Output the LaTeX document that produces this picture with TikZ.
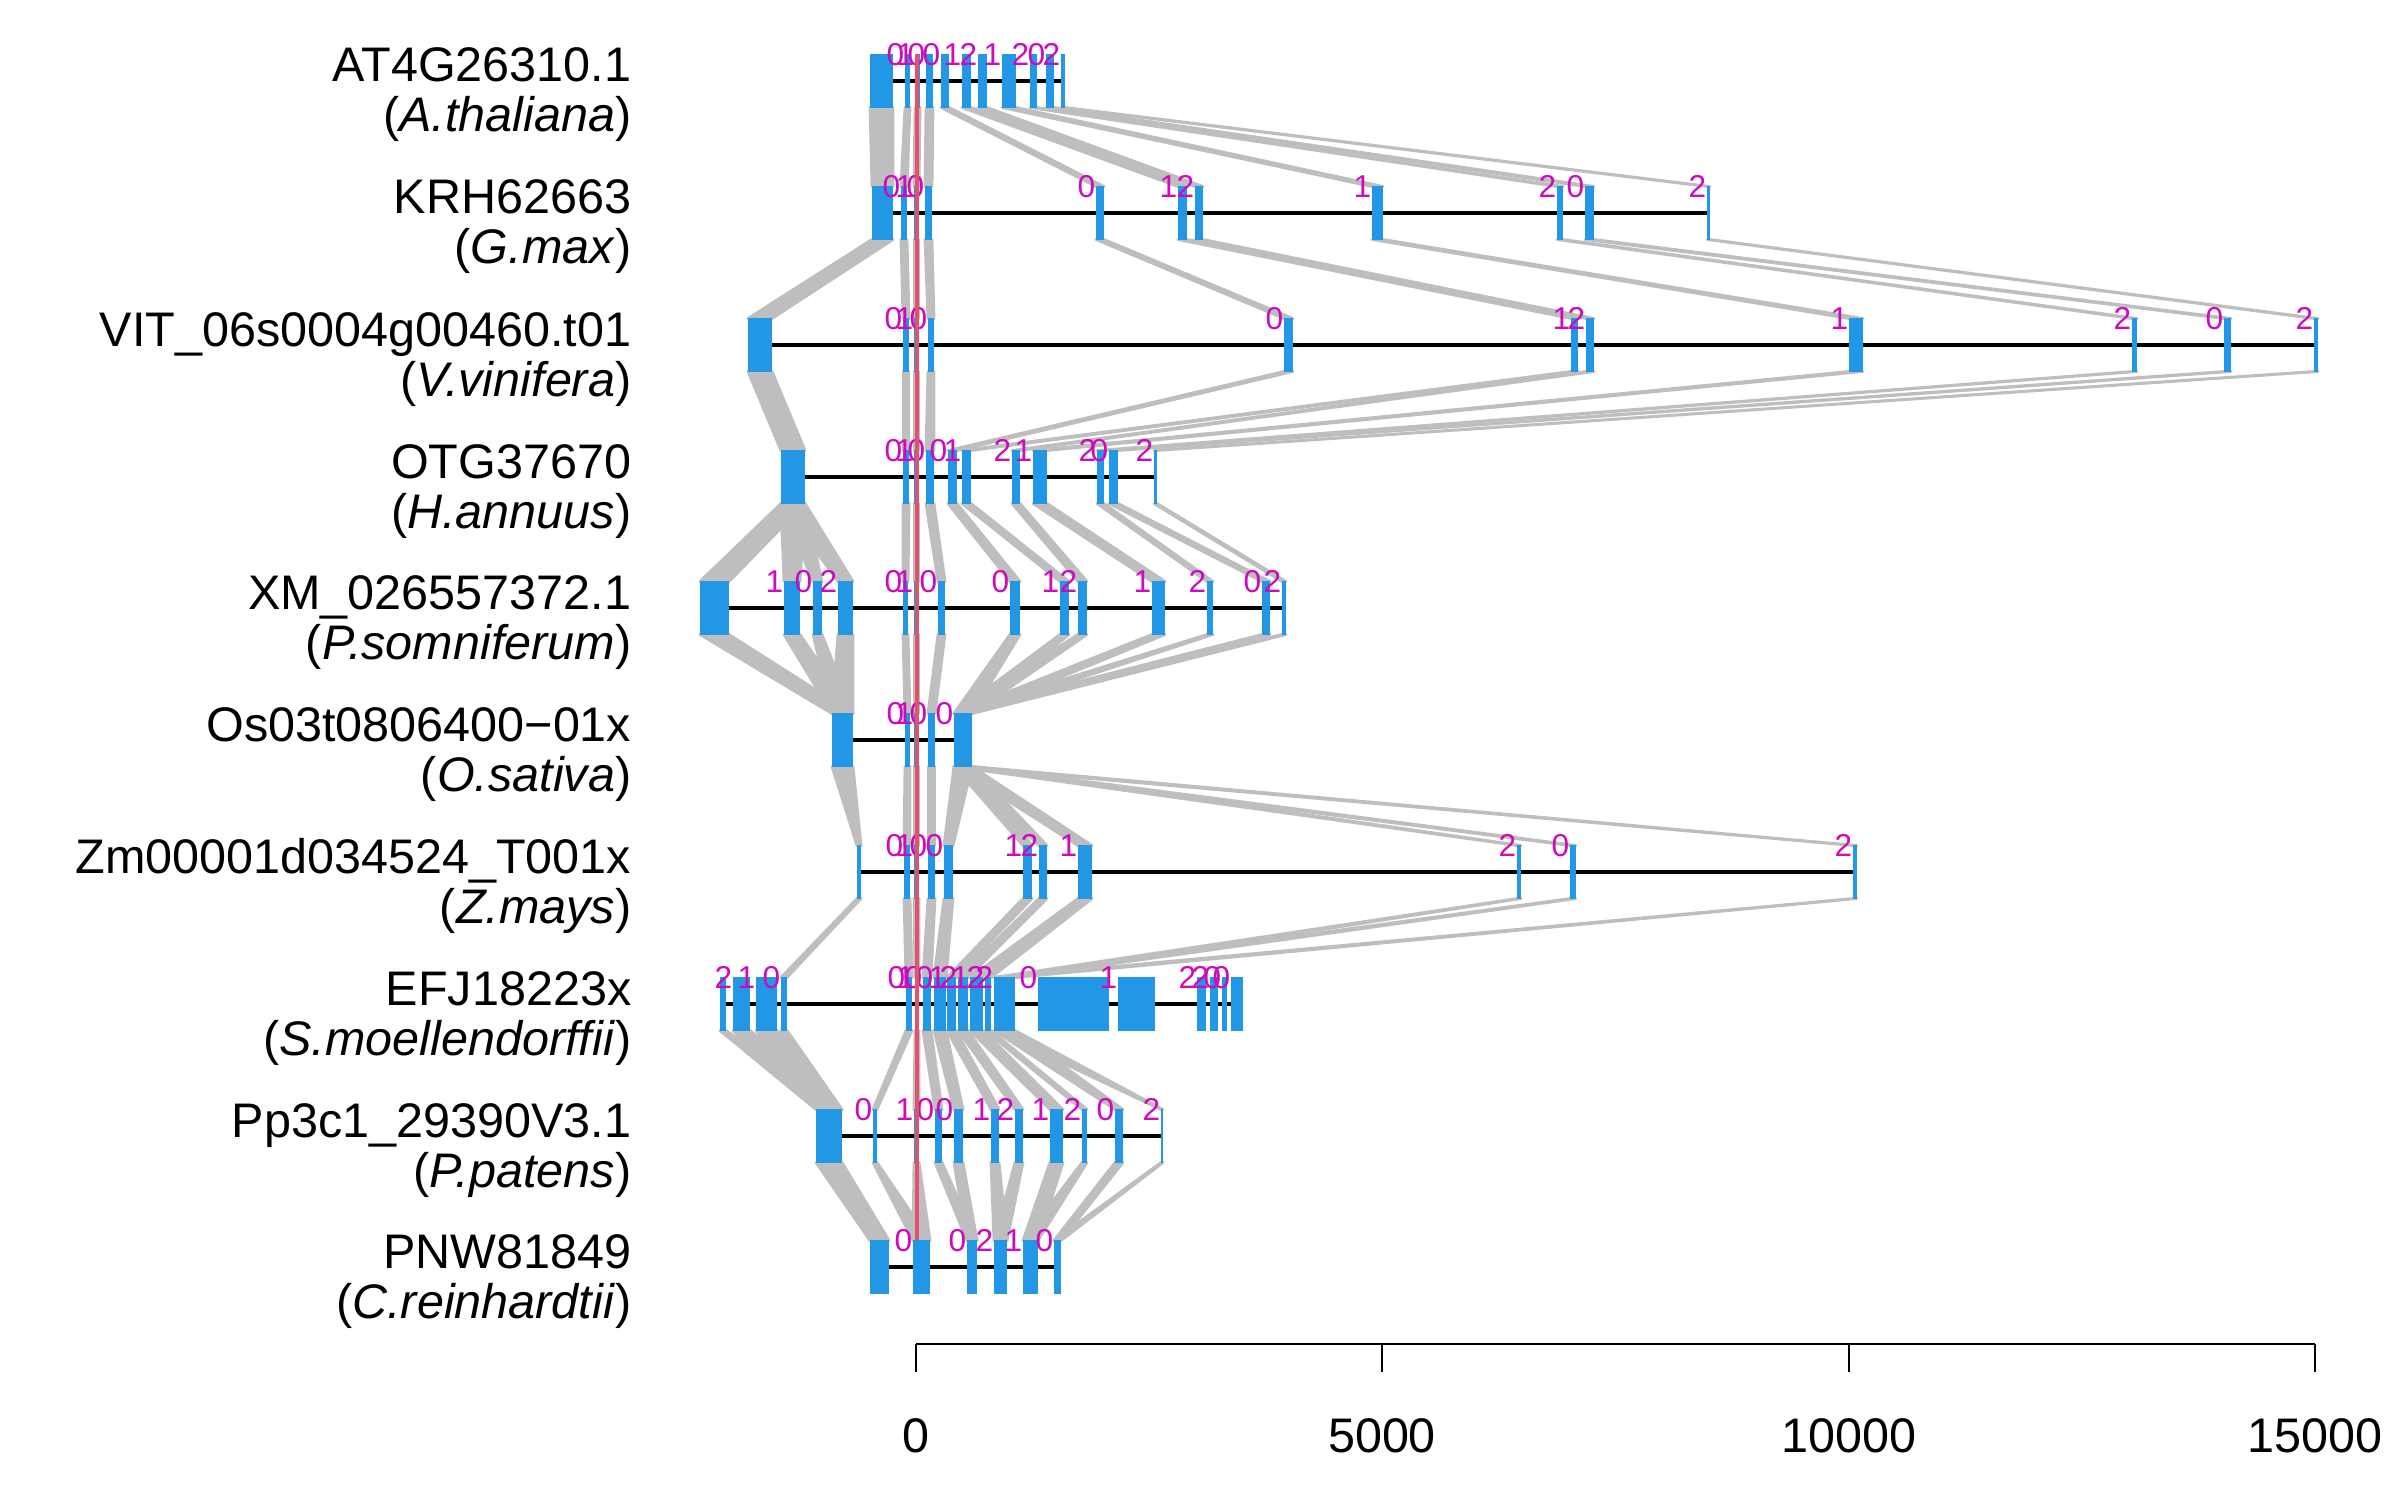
\documentclass[tikz,border=0pt]{standalone}
\usepackage{fontspec}
\setmainfont{Liberation Sans}
\usepackage{tikz}
\usetikzlibrary{positioning}
\usetikzlibrary{calc,backgrounds}

\definecolor{exonblue}{HTML}{2297E6}
\definecolor{phasemag}{HTML}{CD0BBC}
\definecolor{zerored}{HTML}{DF536B}
\definecolor{bandgray}{HTML}{BEBEBE}

\tikzset{
	exon/.style={rectangle, fill=exonblue, inner sep=0pt, outer sep=0pt, minimum height=0.53cm},
	phase/.style={anchor=east, inner sep=0pt, text=phasemag, font=\fontsize{9}{10}\selectfont},
	gene/.style={line width=0.95pt, black},
	band/.style={fill=bandgray, draw=bandgray, line width=0.8pt, line join=round},
	zeroline/.style={line width=1.1pt, zerored},
	gname/.style={anchor=base east, inner sep=0pt, font=\fontsize{13.8}{16}\selectfont},
	axisline/.style={line width=0.8pt, black},
	ticklabel/.style={inner sep=0pt, font=\fontsize{13.8}{16}\selectfont},
}

% one gene model: #1 row, #2 y, #3/#4 first exon, #5 other exons (start/end/phase), #6 last index
\newcommand{\generow}[6]{%
	\node[exon, minimum width={(#4-#3)*0.2845pt}] (r#1e1) at ({(#3+#4)/2},#2) {};
	\foreach \xa/\xb/\ph [count=\i from 2] in {#5} {
		\node[exon, minimum width={(\xb-\xa)*0.2845pt}] (r#1e\i) at ({(\xa+\xb)/2},#2) {};
		\node[phase] (r#1p\i) at (r#1e\i.north west) {\ph};
	}
	\begin{pgfonlayer}{background}
		\draw[gene] (r#1e1.center) -- (r#1e#6.center);
	\end{pgfonlayer}
}

% gray band between homologous exons of two neighbouring rows
\newcommand{\band}[2]{%
	\filldraw[band] (#1.south west) -- (#1.south east) -- (#2.north east) -- (#2.north west) -- cycle;
}

\begin{document}
\begin{tikzpicture}[x=0.01cm, y=-0.01cm]
	
	\useasboundingbox (0,0) rectangle (2400,1500);
	
	% gene names, right aligned
	\node[gname] (n1) at (632,82) {AT4G26310.1};
	\node[gname] (s1) at (632,132) {(\textit{A.thaliana})};
	\node[gname] (n2) at (632,214) {KRH62663};
	\node[gname] (s2) at (632,264) {(\textit{G.max})};
	\node[gname] (n3) at (632,346) {VIT\_06s0004g00460.t01};
	\node[gname] (s3) at (632,396) {(\textit{V.vinifera})};
	\node[gname] (n4) at (632,478) {OTG37670};
	\node[gname] (s4) at (632,528) {(\textit{H.annuus})};
	\node[gname] (n5) at (632,609) {XM\_026557372.1};
	\node[gname] (s5) at (632,659) {(\textit{P.somniferum})};
	\node[gname] (n6) at (632,741) {Os03t0806400−01x};
	\node[gname] (s6) at (632,791) {(\textit{O.sativa})};
	\node[gname] (n7) at (632,873) {Zm00001d034524\_T001x};
	\node[gname] (s7) at (632,923) {(\textit{Z.mays})};
	\node[gname] (n8) at (632,1005) {EFJ18223x};
	\node[gname] (s8) at (632,1055) {(\textit{S.moellendorffii})};
	\node[gname] (n9) at (632,1137) {Pp3c1\_29390V3.1};
	\node[gname] (s9) at (632,1187) {(\textit{P.patens})};
	\node[gname] (n10) at (632,1268) {PNW81849};
	\node[gname] (s10) at (632,1318) {(\textit{C.reinhardtii})};
	
	% exon models
	\generow{1}{81}{870}{893}{905/910/0, 915/920/1, 926/933/0, 941/949/0, 962/971/1, 978/987/2, 1002/1016/1, 1030/1037/2, 1046/1054/0, 1061/1065/2}{11}
	\generow{2}{213}{872}{893}{901/907/0, 914/919/1, 925/932/0, 1096/1104/0, 1178/1187/1, 1195/1203/2, 1372/1383/1, 1557/1563/2, 1585/1594/0, 1707/1710/2}{11}
	\generow{3}{345}{748}{772}{903/909/0, 914/919/1, 928/934/0, 1284/1293/0, 1571/1578/1, 1586/1594/2, 1849/1863/1, 2132/2137/2, 2224/2231/0, 2314/2318/2}{11}
	\generow{4}{477}{781}{805}{903/909/0, 914/919/1, 926/934/0, 948/957/0, 962/971/1, 1012/1020/2, 1033/1047/1, 1097/1104/2, 1109/1118/0, 1154/1157/2}{11}
	\generow{5}{608}{700}{729}{784/800/1, 813/822/0, 838/853/2, 903/908/0, 914/919/1, 938/945/0, 1010/1020/0, 1060/1069/1, 1078/1087/2, 1152/1165/1, 1207/1213/2, 1262/1270/0, 1282/1286/2}{14}
	\generow{6}{740}{832}{853}{905/910/0, 914/919/1, 928/935/0, 954/972/0}{5}
	\generow{7}{872}{857}{861}{904/910/0, 914/919/1, 928/935/0, 944/953/0, 1023/1032/1, 1039/1047/2, 1078/1092/1, 1517/1521/2, 1570/1576/0, 1853/1857/2}{11}
	\generow{8}{1004}{720}{726}{733/750/2, 756/777/1, 781/787/0, 906/912/0, 915/919/1, 923/931/0, 934/946/0, 947/956/1, 958/968/2, 970/983/1, 985/991/2, 994/1015/2, 1038/1109/0, 1118/1155/1, 1197/1206/2, 1210/1218/2, 1222/1227/0, 1231/1243/0}{19}
	\generow{9}{1136}{816}{842}{873/877/0, 914/919/1, 935/942/0, 954/963/0, 991/999/1, 1015/1023/2, 1050/1063/1, 1082/1087/2, 1115/1123/0, 1161/1163/2}{11}
	\generow{10}{1267}{870}{889}{913/930/0, 967/977/0, 994/1007/2, 1023/1038/1, 1054/1061/0}{6}
	
	% homology bands
	\begin{pgfonlayer}{background}
		\foreach \i in {1,...,11} {\band{r1e\i}{r2e\i}}
		\foreach \i in {1,...,11} {\band{r2e\i}{r3e\i}}
		\foreach \i in {1,...,11} {\band{r3e\i}{r4e\i}}
		\foreach \a/\b in {1/1,1/2,1/3,1/4,2/5,3/6,4/7,5/8,6/9,7/10,8/11,9/12,10/13,11/14} {\band{r4e\a}{r5e\b}}
		\foreach \a/\b in {1/1,2/1,3/1,4/1,5/2,6/3,7/4,8/5,9/5,10/5,11/5,12/5,13/5,14/5} {\band{r5e\a}{r6e\b}}
		\foreach \a/\b in {1/1,2/2,3/3,4/4,5/5,5/6,5/7,5/8,5/9,5/10,5/11} {\band{r6e\a}{r7e\b}}
		\foreach \a/\b in {1/4,2/5,3/6,4/7,5/8,6/9,7/10,8/11,8/12,9/13,10/13,11/13} {\band{r7e\a}{r8e\b}}
		\foreach \a/\b in {1/1,2/1,3/1,4/1,5/2,6/3,7/4,8/5,9/6,10/7,11/8,12/9,13/10,13/11} {\band{r8e\a}{r9e\b}}
		\foreach \a/\b in {1/1,2/2,3/2,4/3,5/3,6/4,7/4,8/5,9/5,10/6,11/6} {\band{r9e\a}{r10e\b}}
	\end{pgfonlayer}
	
	% position zero
	\draw[zeroline] (917,54) -- (917,1240);
	
	% scale
	\draw[axisline] (916,1344) -- (2315,1344);
	\foreach \v/\x in {0/916,5000/1382,10000/1849,15000/2315} {
		\draw[axisline] (\x,1344) -- (\x,1372);
		\node[ticklabel] (t\v) at (\x,1436) {\v};
	}
	
\end{tikzpicture}
\end{document}
